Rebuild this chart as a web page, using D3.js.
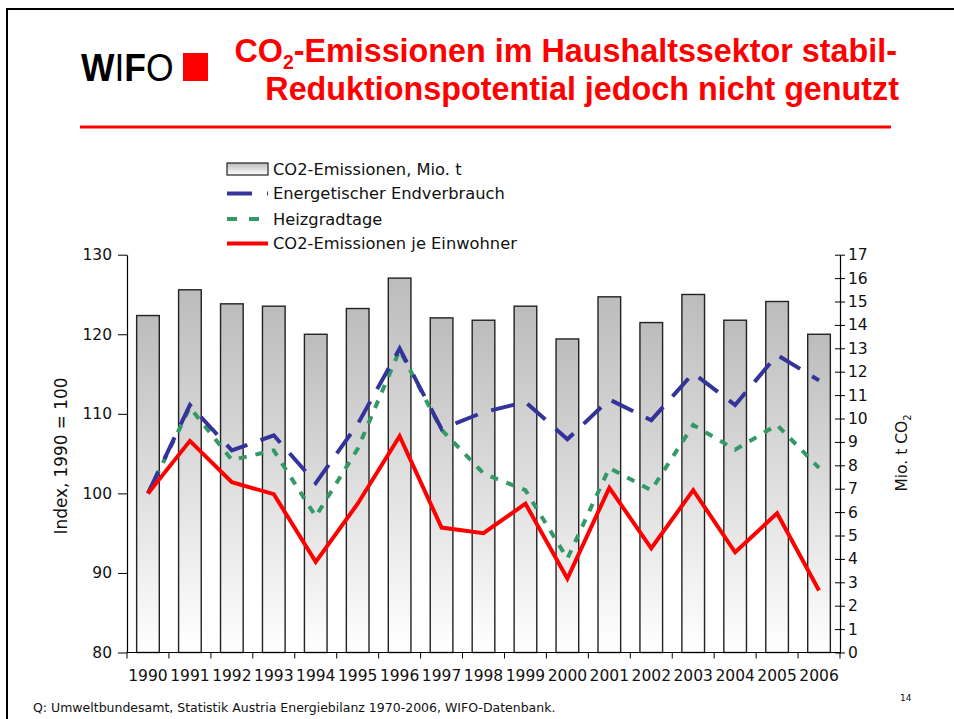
<!DOCTYPE html>
<html><head><meta charset="utf-8">
<script src="https://cdn.jsdelivr.net/npm/d3@7"></script>
<style>html,body{margin:0;padding:0;background:#fff;}svg{display:block;}</style>
</head><body>
<svg id="chart" width="954" height="719"></svg>
<script>
const years = ["1990","1991","1992","1993","1994","1995","1996","1997","1998","1999","2000","2001","2002","2003","2004","2005","2006"];
const co2Emissionen = [14.4,15.5,14.9,14.8,13.6,14.7,16.0,14.3,14.2,14.8,13.4,15.2,14.1,15.3,14.2,15.0,13.6];
const endverbrauch = [100,111.1,105.4,107.3,101.3,108.7,118.2,108.1,110.2,111.5,106.8,111.8,109.2,115.1,111.1,117.4,114.2];
const heizgradtage = [100,110.8,104.2,105.4,97.1,105.6,118.0,108.0,102.5,100.4,91.8,103.2,100.4,108.6,105.5,108.6,103.2];
const proKopf = [100,106.6,101.4,99.9,91.4,98.7,107.2,95.7,95.0,98.7,89.3,100.7,93.1,100.4,92.6,97.5,87.8];
const leftTicks = [80,90,100,110,120,130];
const rightTicks = d3.range(0,18);
const legendLabels = ["CO2-Emissionen, Mio. t","Energetischer Endverbrauch","Heizgradtage","CO2-Emissionen je Einwohner"];
const logoLetters = ["W","I","F","O"];

const FONT = "'DejaVu Sans', sans-serif";
const svg = d3.select("#chart");

function fit(sel, target){
  const n = sel.node(); const fs = parseFloat(sel.attr("font-size"));
  const w = n.getComputedTextLength();
  sel.attr("font-size", fs*target/w);
  return fs*target/w;
}

// slide frame
svg.append("line").attr("x1",7).attr("x2",7).attr("y1",8).attr("y2",719).attr("stroke","#000").attr("stroke-width",2);
svg.append("line").attr("x1",6).attr("x2",954).attr("y1",9).attr("y2",9).attr("stroke","#000").attr("stroke-width",2);

// logo: one text, letters as tspans, slightly condensed
const logoWeight = ["bold","normal","bold","normal"];
const logo = svg.append("text").attr("transform","translate(81,81) scale(0.91,1)")
  .attr("font-family","'Liberation Sans', Arial, sans-serif").attr("font-size",39).attr("fill","#000");
logo.selectAll("tspan").data(logoLetters).join("tspan").attr("font-weight",(d,i)=>logoWeight[i]).text(d=>d);
svg.append("rect").attr("x",183).attr("y",53).attr("width",25).attr("height",28).attr("fill","#ff0000");

// title
const t1 = svg.append("text").attr("x",897).attr("y",62).attr("text-anchor","end")
  .attr("font-family","'Liberation Sans', Arial, sans-serif").attr("font-weight","bold").attr("font-size",30).attr("fill","#ff0000");
t1.append("tspan").text("CO");
t1.append("tspan").attr("font-size",18).attr("dy",7).text("2");
t1.append("tspan").attr("dy",-7).text("-Emissionen im Haushaltssektor stabil-");
const t2 = svg.append("text").attr("x",899).attr("y",100).attr("text-anchor","end")
  .attr("font-family","'Liberation Sans', Arial, sans-serif").attr("font-weight","bold").attr("font-size",30).attr("fill","#ff0000")
  .text("Reduktionspotential jedoch nicht genutzt");
const tfs = fit(t2, 634);
t1.attr("font-size", tfs); t1.select("tspan:nth-child(2)").attr("font-size", tfs*0.6);
svg.append("line").attr("x1",80).attr("x2",891).attr("y1",127).attr("y2",127).attr("stroke","#ff0000").attr("stroke-width",3);

// gradient
const defs = svg.append("defs");
const g = defs.append("linearGradient").attr("id","barGrad").attr("x1",0).attr("y1",0).attr("x2",0).attr("y2",1);
g.append("stop").attr("offset","0%").attr("stop-color","#bcbcbc");
g.append("stop").attr("offset","100%").attr("stop-color","#ffffff");

// scales
const x = d3.scaleBand().domain(years).range([127,840]).paddingInner(0.46).paddingOuter(0.23);
const yL = d3.scaleLinear().domain([80,130]).range([652.5,254.7]);
const yR = d3.scaleLinear().domain([0,17]).range([652.5,254.7]);
const cx = d => x(d)+x.bandwidth()/2;

// bars
svg.append("g").selectAll("rect").data(years).join("rect")
  .attr("x", d=>x(d)).attr("width", x.bandwidth())
  .attr("y", (d,i)=>yR(co2Emissionen[i])).attr("height",(d,i)=>yR(0)-yR(co2Emissionen[i]))
  .attr("fill","url(#barGrad)").attr("stroke","#222").attr("stroke-width",1.4);

// lines
function drawLine(vals, color, dash){
  const line = d3.line().x((d,i)=>cx(years[i])).y(d=>yL(d));
  svg.append("path").datum(vals).attr("d",line).attr("fill","none").attr("stroke",color)
    .attr("stroke-width",4).attr("stroke-dasharray",dash||null).attr("stroke-linejoin","miter");
}
drawLine(heizgradtage, "#339966", "8,9");
drawLine(endverbrauch, "#333399", "24,14");
drawLine(proKopf, "#ff0000", null);

// axes
const axL = svg.append("g").attr("transform","translate(127,0)")
  .call(d3.axisLeft(yL).tickValues(leftTicks).tickSize(9).tickSizeOuter(0).tickPadding(6));
const axR = svg.append("g").attr("transform","translate(840,0)")
  .call(d3.axisRight(yR).tickValues(rightTicks).tickSize(5).tickSizeOuter(0).tickPadding(3));
axR.selectAll(".tick line").attr("x1",-5);
const axB = svg.append("g").attr("transform","translate(0,652.5)")
  .call(d3.axisBottom(x).tickSize(0).tickSizeOuter(0).tickPadding(17));
const bnds = d3.range(0, years.length+1).map(i => x.range()[0] + i*x.step());
axB.selectAll(".bnd").data(bnds).join("line").attr("class","bnd")
  .attr("x1",d=>d).attr("x2",d=>d).attr("y1",0).attr("y2",6).attr("stroke","#000");
[axL,axR,axB].forEach(a=>{
  a.selectAll("path.domain").attr("stroke","#000").attr("stroke-width",1.2);
  a.selectAll(".tick line").attr("stroke","#000");
  a.selectAll("text").attr("font-family",FONT).attr("font-size",15.5).attr("fill","#111");
});
axB.select("path.domain").attr("d","M127,0H840");

// axis titles
const lt = svg.append("text").attr("transform","translate(67,456) rotate(-90)").attr("text-anchor","middle")
  .attr("font-family",FONT).attr("font-size",15.5).attr("fill","#111").text("Index, 1990 = 100");
fit(lt,157);
const rt = svg.append("text").attr("transform","translate(907,453) rotate(-90)").attr("text-anchor","middle")
  .attr("font-family",FONT).attr("font-size",15.5).attr("fill","#111");
rt.append("tspan").text("Mio. t CO");
rt.append("tspan").attr("font-size",10).attr("dy",4).text("2");

// legend
const legY = [169,193.5,219,243.5];
const lg = svg.append("g");
lg.append("rect").attr("x",227).attr("y",163).attr("width",41).attr("height",12)
  .attr("fill","url(#barGrad)").attr("stroke","#222").attr("stroke-width",1.2);
lg.append("line").attr("x1",227).attr("x2",268).attr("y1",legY[1]).attr("y2",legY[1]).attr("stroke","#333399").attr("stroke-width",4).attr("stroke-dasharray","25,15");
lg.append("line").attr("x1",227).attr("x2",268).attr("y1",legY[2]).attr("y2",legY[2]).attr("stroke","#339966").attr("stroke-width",4).attr("stroke-dasharray","10,12");
lg.append("line").attr("x1",227).attr("x2",268).attr("y1",legY[3]).attr("y2",legY[3]).attr("stroke","#ff0000").attr("stroke-width",4);
const lts = lg.selectAll("text.lg").data(legendLabels).join("text").attr("class","lg")
  .attr("x",273).attr("y",(d,i)=>legY[i]+5.5).attr("font-family",FONT).attr("font-size",15.5).attr("fill","#111").text(d=>d);
const lfs = fit(d3.select(lts.nodes()[1]), 232);
lts.attr("font-size", lfs);

// footer
const ft = svg.append("text").attr("x",33).attr("y",712).attr("font-family",FONT).attr("font-size",12).attr("fill","#111")
  .text("Q: Umweltbundesamt, Statistik Austria Energiebilanz 1970-2006, WIFO-Datenbank.");
fit(ft, 523);
svg.append("text").attr("x",900).attr("y",701).attr("font-family",FONT).attr("font-size",9).attr("fill","#111").text("14");
</script>
</body></html>
